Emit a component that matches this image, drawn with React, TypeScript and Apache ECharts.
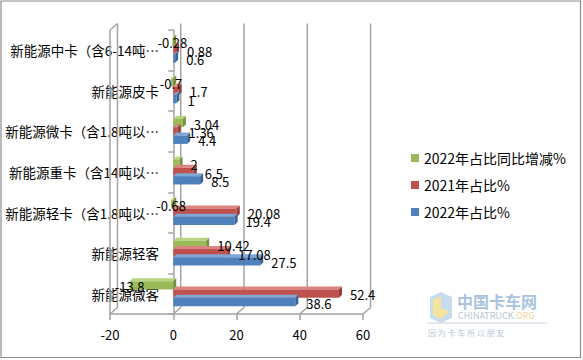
import React, { useEffect, useRef } from "react";
import * as echarts from "echarts";

const FONT = '"Noto Sans CJK SC", "Noto Sans", sans-serif';

const categories = [
  "新能源中卡（含6-14吨…",
  "新能源皮卡",
  "新能源微卡（含1.8吨以…",
  "新能源重卡（含14吨以…",
  "新能源轻卡（含1.8吨以…",
  "新能源轻客",
  "新能源微客",
];
const change2022 = [-0.28, -0.7, 3.04, 2, -0.68, 10.42, -13.8];
const share2021 = [0.88, 1.7, 1.36, 6.5, 20.08, 17.08, 52.4];
const share2022 = [0.6, 1, 4.4, 8.5, 19.4, 27.5, 38.6];
const xTicks = [-20, 0, 20, 40, 60];

const seriesNames = ["2022年占比同比增减%", "2021年占比%", "2022年占比%"];
const seriesColors = [
  { front: "#9bbb59", top: "#b9d381", side: "#77923f" },
  { front: "#c0504d", top: "#d98481", side: "#953b38" },
  { front: "#4f81bd", top: "#80a6d6", side: "#3a6496" },
];

const GRID = "#a3a3a3";

function barRender(slotIdx: number) {
  const c = seriesColors[slotIdx];
  return (params: any, api: any) => {
    const v = api.value(0);
    const ci = api.value(1);
    const p0 = api.coord([0, ci]);
    const p1 = api.coord([v, ci]);
    const band = api.size([0, 1])[1];
    const slot = band * 0.205;
    const d = 3;
    const y = p0[1] - 1.5 * slot + slotIdx * slot;
    const h = slot;
    const xl = Math.min(p0[0], p1[0]);
    const xr = Math.max(p0[0], p1[0]);
    const children: any[] = [
      {
        type: "polygon",
        shape: { points: [[xl, y], [xr, y], [xr + d, y - d], [xl + d, y - d]] },
        style: { fill: c.top },
      },
      {
        type: "rect",
        shape: { x: xl, y: y, width: xr - xl, height: h },
        style: { fill: c.front },
      },
      {
        type: "polygon",
        shape: { points: [[xr, y], [xr + d, y - d], [xr + d, y + h - d], [xr, y + h]] },
        style: { fill: c.side },
      },
    ];
    const isNeg = v < 0;
    children.push({
      type: "text",
      z2: 100,
      style: {
        text: String(v),
        x: isNeg ? p1[0] : xr + d + 8,
        y: y + h / 2 + 1,
        align: isNeg ? "center" : "left",
        verticalAlign: "middle",
        fill: "#000",
        fontSize: 13,
        fontFamily: FONT,
      },
    });
    return { type: "group", children };
  };
}

function frameRender(params: any, api: any) {
  if (params.dataIndex !== 0) return null;
  const band = api.size([0, 1])[1];
  const topY = api.coord([0, 0])[1] - band / 2;
  const botY = api.coord([0, categories.length - 1])[1] + band / 2;
  const dx = 7.5;
  const dy = -6.5;
  const ls = { stroke: GRID, lineWidth: 1.5 };
  const children: any[] = [];
  xTicks.forEach((t) => {
    const x = api.coord([t, 0])[0];
    children.push({
      type: "line",
      shape: { x1: x + dx, y1: topY + dy, x2: x + dx, y2: botY + dy },
      style: ls,
    });
    children.push({
      type: "line",
      shape: { x1: x, y1: botY, x2: x + dx, y2: botY + dy },
      style: ls,
    });
  });
  const xl = api.coord([xTicks[0], 0])[0];
  children.push({
    type: "line",
    shape: { x1: xl, y1: topY, x2: xl, y2: botY },
    style: ls,
  });
  children.push({
    type: "line",
    shape: { x1: xl, y1: topY, x2: xl + dx, y2: topY + dy },
    style: ls,
  });
  return { type: "group", children };
}

export default function App() {
  const ref = useRef<HTMLDivElement>(null);
  useEffect(() => {
    document.body.style.margin = "0";
    if (!ref.current) return;
    const chart = echarts.init(ref.current, undefined, { renderer: "svg" });
    const valueSeries = [change2022, share2021, share2022];
    chart.setOption({
      animation: false,
      textStyle: { fontFamily: FONT },
      grid: { left: 110, right: 220, top: 30, bottom: 46, containLabel: false, outerBoundsMode: "none" },
      xAxis: {
        type: "value",
        min: -20,
        max: 60,
        interval: 20,
        axisLine: { show: true, lineStyle: { color: GRID, width: 1.5 } },
        axisTick: { show: true, length: 6, lineStyle: { color: GRID, width: 1.5 } },
        axisLabel: { color: "#000", fontSize: 13, margin: 14, fontFamily: FONT },
        splitLine: { show: false },
      },
      yAxis: {
        type: "category",
        inverse: true,
        data: categories,
        axisLine: { show: true, onZero: true, lineStyle: { color: GRID, width: 1.5 } },
        axisTick: { show: true, length: 5, lineStyle: { color: GRID, width: 1.5 } },
        axisLabel: { color: "#000", fontSize: 13.5, margin: -49, fontFamily: FONT },
      },
      legend: {
        orient: "vertical",
        left: 406,
        top: 146,
        itemWidth: 8,
        itemHeight: 8,
        itemGap: 13,
        icon: "rect",
        data: seriesNames,
        textStyle: { color: "#000", fontSize: 14, lineHeight: 14, fontFamily: FONT },
      },
      series: [
        {
          type: "custom",
          name: "frame",
          coordinateSystem: "cartesian2d",
          renderItem: frameRender,
          data: [[0, 0]],
          encode: { x: 0, y: 1 },
          z: 1,
          silent: true,
          clip: false,
        },
        ...valueSeries.map((vals, i) => ({
          type: "custom",
          name: seriesNames[i],
          coordinateSystem: "cartesian2d",
          renderItem: barRender(i),
          data: vals.map((v, j) => [v, j]),
          encode: { x: 0, y: 1 },
          itemStyle: { color: seriesColors[i].front },
          z: 2,
          clip: false,
        })),
      ],
      graphic: [
        {
          type: "rect",
          shape: { x: 1, y: 1, width: 579.5, height: 356.5 },
          style: { fill: "none", stroke: "#8c8c8c", lineWidth: 1.2 },
          silent: true,
        },
        {
          type: "group",
          silent: true,
          children: [
            {
              type: "polygon",
              shape: { points: [[430, 297], [441, 292], [452, 297], [452, 318], [441, 323], [430, 318]] },
              style: { fill: "#c9dbee" },
            },
            {
              type: "polygon",
              shape: { points: [[433, 300], [441, 296], [441, 308], [449, 312], [441, 319], [433, 315]] },
              style: { fill: "#f4e39a" },
            },
            {
              type: "text",
              style: { text: "中国卡车网", x: 457, y: 301, fill: "#a9c3df", fontSize: 16, fontFamily: FONT, fontWeight: "bold", verticalAlign: "middle" },
            },
            {
              type: "text",
              style: {
                text: "CHINATRUCK.{o|ORG}",
                x: 458,
                y: 315,
                fill: "#b7c4d1",
                fontSize: 9,
                fontFamily: FONT,
                verticalAlign: "middle",
                rich: { o: { fill: "#f2d39a", fontSize: 9, fontFamily: FONT } },
              },
            },
            {
              type: "line",
              shape: { x1: 427, y1: 323, x2: 547, y2: 323 },
              style: { stroke: "#c7d2dd", lineWidth: 1 },
            },
            {
              type: "text",
              style: { text: "因 为 卡 车 所 以 朋 友", x: 428, y: 332, fill: "#b3c7db", fontSize: 8, fontFamily: FONT, verticalAlign: "middle" },
            },
          ],
        },
      ],
    });
    return () => chart.dispose();
  }, []);
  return <div ref={ref} style={{ width: 583, height: 360 }} />;
}
